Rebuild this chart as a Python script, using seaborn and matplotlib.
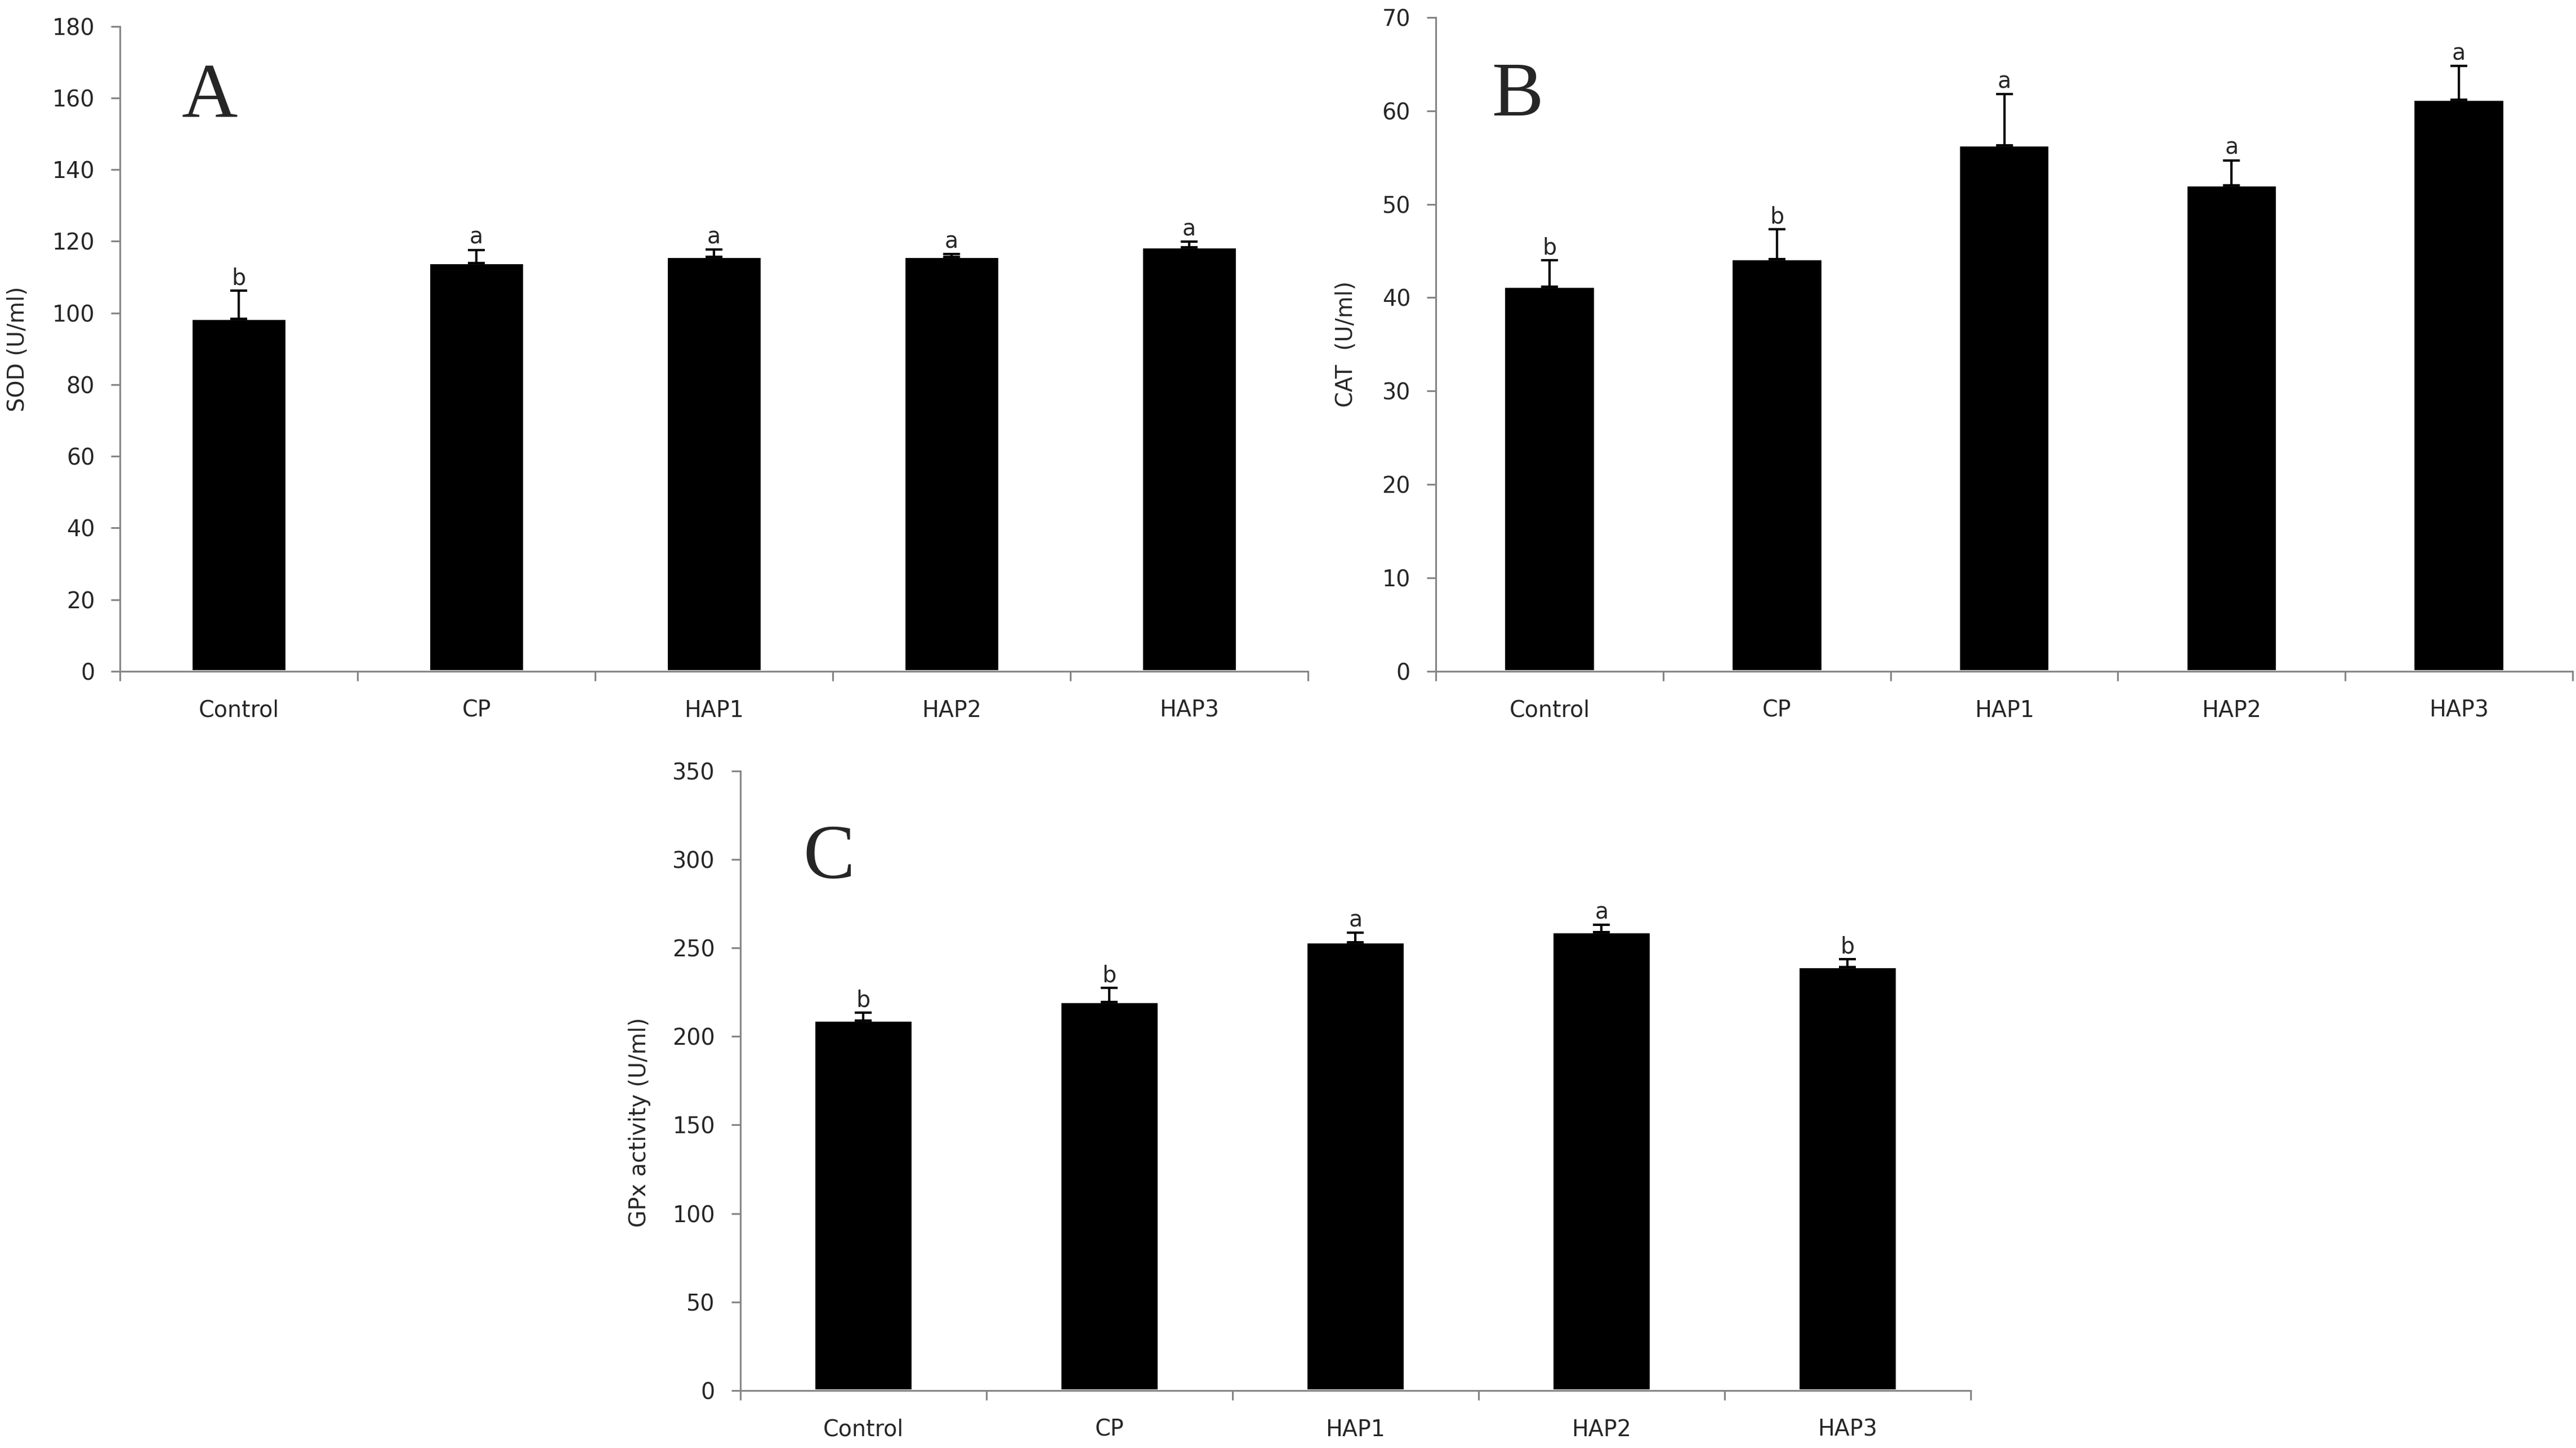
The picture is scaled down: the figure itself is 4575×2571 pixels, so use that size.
import numpy as np
import matplotlib
matplotlib.use("Agg")
import matplotlib.pyplot as plt
import seaborn as sns

# groups and values
groups = ["Control", "CP", "HAP1", "HAP2", "HAP3"]

sod_mean = [98.4, 113.9, 115.6, 115.6, 118.4]
sod_err = [7.8, 3.7, 2.1, 0.8, 1.5]
sod_sig = ["b", "a", "a", "a", "a"]

cat_mean = [41.2, 44.1, 56.3, 52.0, 61.2]
cat_err = [2.8, 3.2, 5.5, 2.7, 3.6]
cat_sig = ["b", "b", "a", "a", "a"]

gpx_mean = [209.0, 219.6, 253.1, 258.8, 239.2]
gpx_err = [4.4, 7.7, 5.4, 4.3, 4.4]
gpx_sig = ["b", "b", "a", "a", "b"]

sns.set_style("ticks")
plt.rcParams['font.family'] = ['DejaVu Sans']
plt.rcParams['font.size'] = 9.5

axis_grey = "#858585"

fig = plt.figure(figsize=(15.25, 8.57), dpi=300)
ax_a = fig.add_axes([0.0466, 0.5364, 0.4612, 0.4454])
ax_b = fig.add_axes([0.5574, 0.5364, 0.4413, 0.4516])
ax_c = fig.add_axes([0.2874, 0.0397, 0.4776, 0.4279])


def panel(ax, means, errs, sig, ymax, ystep, ylabel, letter, letter_pos, label_pos):
    sns.barplot(x=groups, y=means, color="black", saturation=1, width=0.4, ax=ax)
    pos = np.arange(len(groups))
    # only the upper half of the error bar is shown
    ax.errorbar(pos, means, yerr=[np.zeros(len(errs)), errs], fmt="none",
                ecolor="black", elinewidth=1.0, capsize=3.5, capthick=1.0)
    for i, s in enumerate(sig):
        ax.annotate(s, xy=(pos[i], means[i] + errs[i]), xytext=(0, 2.6),
                    textcoords="offset points", ha="center", va="baseline",
                    fontsize=9.5)
    ax.set_xlim(-0.5, len(groups) - 0.5)
    ax.set_ylim(0, ymax)
    ax.set_yticks(np.arange(0, ymax + 1, ystep))
    ax.set_xticks(pos)
    ax.set_xticklabels(groups)
    ax.set_xticks(np.arange(-0.5, len(groups)), minor=True)
    ax.tick_params(axis="x", which="major", length=0, pad=12, labelsize=9.5)
    ax.tick_params(axis="x", which="minor", length=4, width=0.75,
                   color=axis_grey, direction="out")
    ax.tick_params(axis="y", length=3.8, width=0.75, color=axis_grey,
                   direction="out", pad=7, labelsize=9.5)
    sns.despine(ax=ax)
    for side in ["left", "bottom"]:
        ax.spines[side].set_color(axis_grey)
        ax.spines[side].set_linewidth(0.75)
    ax.set_xlabel("")
    ax.set_ylabel(ylabel, fontsize=9.5)
    ax.yaxis.set_label_coords(*label_pos)
    ax.text(letter_pos[0], letter_pos[1], letter, transform=ax.transAxes,
            fontsize=33, family="Liberation Serif", ha="left", va="baseline")


panel(ax_a, sod_mean, sod_err, sod_sig, 180, 20, "SOD (U/ml)", "A",
      (0.052, 0.86), (-0.0768, 0.5))
panel(ax_b, cat_mean, cat_err, cat_sig, 70, 10, "CAT  (U/ml)", "B",
      (0.049, 0.85), (-0.0693, 0.5))
panel(ax_c, gpx_mean, gpx_err, gpx_sig, 350, 50, "GPx activity (U/ml)", "C",
      (0.051, 0.827), (-0.0728, 0.433))

fig.savefig("out.png", dpi=300)
